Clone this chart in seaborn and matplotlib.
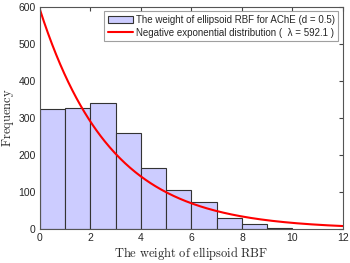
import numpy as np
import seaborn as sns
import matplotlib.pyplot as plt

# histogram of ellipsoid RBF weights (bin width 1)
bin_edges = [0, 1, 2, 3, 4, 5, 6, 7, 8, 9, 10]
counts = [323, 326, 339, 258, 164, 105, 72, 31, 13, 2]

# fitted negative exponential: lam * exp(-x / mu)
lam = 592.1
mu = 2.8

sns.set_style("white")
plt.rcParams['font.family'] = ['Liberation Sans', 'DejaVu Sans']
plt.rcParams['mathtext.fontset'] = 'cm'

fig = plt.figure(figsize=(3.5, 2.63), dpi=100)
ax = fig.add_axes([0.114, 0.129, 0.866, 0.846])

centers = [(a + b) / 2 for a, b in zip(bin_edges[:-1], bin_edges[1:])]
sns.histplot(x=centers, weights=counts, bins=bin_edges, ax=ax,
             color=(0.8, 0.8, 1.0), alpha=1, edgecolor='#333333', linewidth=0.8)

xs = np.linspace(0, 12, 300)
sns.lineplot(x=xs, y=lam * np.exp(-xs / mu), ax=ax, color='red', linewidth=1.5)

ax.set_xlim(0, 12)
ax.set_ylim(0, 600)
ax.set_xticks(range(0, 13, 2))
ax.set_yticks(range(0, 601, 100))
ax.tick_params(direction='in', length=3, labelsize=7.5, top=True, right=True,
               color='#444444', labelcolor='#262626', pad=3)
for s in ax.spines.values():
    s.set_color('#555555')
    s.set_linewidth(0.8)

ax.set_xlabel(r'$\mathrm{The\ weight\ of\ ellipsoid\ RBF}$', fontsize=9, labelpad=1)
ax.set_ylabel(r'$\mathrm{Frequency}$', fontsize=9, labelpad=2)

handles = [ax.patches[0], ax.lines[0]]
labels = ['The weight of ellipsoid RBF for AChE (d = 0.5)',
          'Negative exponential distribution (  \u03bb = 592.1 )']
leg = ax.legend(handles, labels, loc='upper right', fontsize=7, frameon=True,
                fancybox=False, edgecolor='#888888', borderpad=0.35,
                handlelength=2.6, handletextpad=0.3, labelspacing=0.3,
                borderaxespad=0.5)
leg.get_frame().set_linewidth(0.8)

fig.savefig('out.png', dpi=100)
